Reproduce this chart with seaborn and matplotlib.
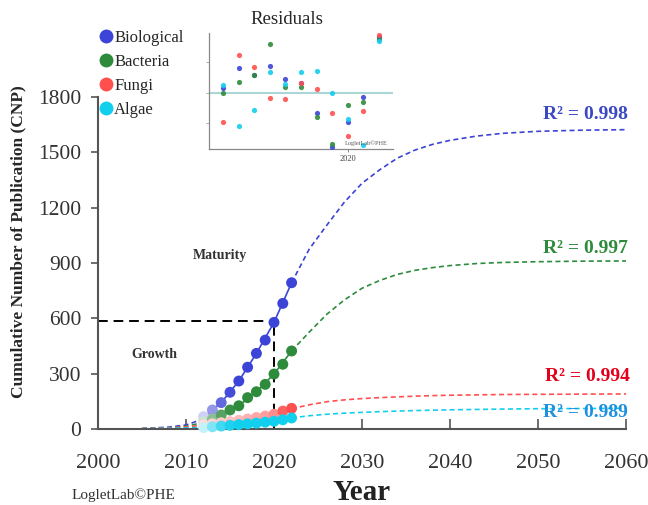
import numpy as np
import pandas as pd
import matplotlib
matplotlib.use("Agg")
import matplotlib.pyplot as plt
from matplotlib.lines import Line2D
from matplotlib.colors import to_rgb
import seaborn as sns

# observed cumulative publications
years = [2012, 2013, 2014, 2015, 2016, 2017, 2018, 2019, 2020, 2021, 2022]
biological = [67, 103, 143, 199, 260, 335, 410, 482, 578, 681, 793]
bacteria = [40, 54, 76, 103, 126, 170, 202, 242, 298, 351, 423]
fungi = [22, 28, 34, 40, 47, 54, 62, 70, 80, 97, 112]
algae = [8, 12, 16, 20, 24, 28, 32, 37, 42, 50, 60]

# fitted logistic curves
fit_years = [2005, 2008, 2010, 2011, 2012, 2014, 2016, 2018, 2020, 2022, 2024, 2026, 2028,
             2030, 2032, 2034, 2036, 2038, 2040, 2043, 2046, 2050, 2055, 2060]
fit_bio = [3, 10, 22, 38, 62, 143, 260, 410, 578, 793, 975, 1105, 1230,
           1332, 1405, 1468, 1512, 1543, 1565, 1588, 1603, 1614, 1620, 1623]
fit_bac = [2, 6, 14, 25, 40, 76, 126, 202, 298, 423, 525, 622, 700,
           763, 805, 838, 860, 875, 886, 897, 903, 907, 910, 911]
fit_fun = [2, 6, 12, 16, 22, 34, 47, 62, 80, 110, 131, 148, 158,
           165, 170, 174, 178, 181, 183, 185, 187, 188, 189, 190]
fit_alg = [2, 4, 6, 7, 8, 16, 24, 32, 42, 60, 72, 80, 86,
           90, 94, 97, 100, 102, 104, 106, 108, 110, 111, 112]

# residuals (inset), same years as observations
res_bio = [0.15, 0.83, 0.58, 0.89, 0.45, 0.31, -0.69, -1.82, -0.97, -0.16, 1.84]
res_bac = [-0.02, 0.36, 0.58, 1.61, 0.17, 0.18, -0.82, -1.71, -0.42, -0.31, 1.78]
res_fun = [-0.97, 1.26, 0.85, -0.17, -0.22, 0.31, 0.11, -0.68, -1.44, -0.61, 1.91]
res_alg = [0.26, -1.13, -0.58, 0.69, 0.28, 0.67, 0.73, -0.02, -0.87, -1.74, 1.71]

names = ["Biological", "Bacteria", "Fungi", "Algae"]
r2_labels = ["R² = 0.998", "R² = 0.997", "R² = 0.994", "R² = 0.989"]

colors = ["#3b44d6", "#2e8b3c", "#ff4f4f", "#12cfee"]
r2_colors = ["#3a48c4", "#2e8b3c", "#e3001b", "#1e90e0"]

sns.set_style("ticks")
plt.rcParams["font.family"] = ["Liberation Serif", "DejaVu Serif"]

fig = plt.figure(figsize=(6.48, 5.05), dpi=100)
W, H = 648, 505
ax = fig.add_axes([98 / W, 1 - 429 / H, 528 / W, 332 / H])

obs = [biological, bacteria, fungi, algae]
fits = [fit_bio, fit_bac, fit_fun, fit_alg]
res = [res_bio, res_bac, res_fun, res_alg]

# fading of early points
fade_main = [0.25, 0.55, 0.8, 0.95, 1, 1, 1, 1, 1, 1, 1]
fade_red = [0.2, 0.25, 0.3, 0.35, 0.4, 0.45, 0.5, 0.55, 0.65, 0.9, 1]


def blend(c, a):
    r, g, b = to_rgb(c)
    return (1 - a + a * r, 1 - a + a * g, 1 - a + a * b)


for i, name in enumerate(names):
    fdf = pd.DataFrame({"year": fit_years, "cnp": fits[i]})
    before = fdf[fdf.year <= 2012]
    inside = fdf[(fdf.year >= 2012) & (fdf.year <= 2022)]
    after = fdf[fdf.year >= 2022]
    for part, ls in [(before, (0, (3, 2))), (inside, "-"), (after, (0, (3, 2)))]:
        sns.lineplot(data=part, x="year", y="cnp", ax=ax, color=colors[i],
                     linewidth=1.2, linestyle=ls, estimator=None, sort=False, legend=False)
    fade = fade_red if i == 2 else fade_main
    odf = pd.DataFrame({"year": years, "cnp": obs[i]})
    pal = {y: blend(colors[i], a) for y, a in zip(years, fade)}
    sns.scatterplot(data=odf, x="year", y="cnp", hue="year", palette=pal, ax=ax,
                    s=62, linewidth=0, legend=False, zorder=3, clip_on=False)

# growth / maturity guide lines
ax.plot([2000, 2020], [585, 585], color="black", linestyle=(0, (5, 3)), linewidth=1.4)
ax.plot([2020, 2020], [0, 585], color="black", linestyle=(0, (5, 3)), linewidth=1.4)

ax.set_xlim(2000, 2060)
ax.set_ylim(0, 1800)
ax.set_xticks(range(2000, 2061, 10))
ax.set_yticks(range(0, 1801, 300))
ax.set_xlabel("")
ax.set_ylabel("")
for side in ["top", "right"]:
    ax.spines[side].set_visible(False)
for side in ["left", "bottom"]:
    ax.spines[side].set_color("#555555")
    ax.spines[side].set_linewidth(1.5)
ax.tick_params(axis="x", direction="in", length=7, width=1.2, color="#555555",
               labelsize=16, labelcolor="#333333", pad=18)
ax.tick_params(axis="y", direction="out", length=5, width=1.2, color="#555555",
               labelsize=15.5, labelcolor="#333333", pad=7)

# R² labels
fig.text(628 / W, 1 - 119 / H, r2_labels[0], color=r2_colors[0], fontsize=14,
         fontweight="bold", ha="right", va="baseline")
fig.text(628 / W, 1 - 253 / H, r2_labels[1], color=r2_colors[1], fontsize=14,
         fontweight="bold", ha="right", va="baseline")
fig.text(630 / W, 1 - 381 / H, r2_labels[2], color=r2_colors[2], fontsize=14,
         fontweight="bold", ha="right", va="baseline")
fig.text(628 / W, 1 - 417 / H, r2_labels[3], color=r2_colors[3], fontsize=14,
         fontweight="bold", ha="right", va="baseline")

fig.text(220 / W, 1 - 255 / H, "Maturity", fontsize=10, fontweight="bold",
         color="#333333", ha="center", va="center")
fig.text(154 / W, 1 - 354 / H, "Growth", fontsize=10, fontweight="bold",
         color="#333333", ha="center", va="center")

fig.text(18 / W, 263 / H, "Cumulative Number of Publication (CNP)", rotation=90,
         fontsize=12.5, fontweight="bold", ha="center", va="center")
fig.text(362 / W, 1 - 492 / H, "Year", fontsize=21, fontweight="bold",
         color="#222222", ha="center", va="center")
fig.text(72 / W, 1 - 495 / H, "LogletLab©PHE", fontsize=11, color="#333333",
         ha="left", va="center")

# legend
handles = [Line2D([], [], marker="o", linestyle="none", markersize=10,
                  markerfacecolor=c, markeredgewidth=0) for c in colors]
fig.legend(handles, names, loc="upper left", bbox_to_anchor=(96 / W, 1 - 30 / H),
           frameon=False, fontsize=12, handletextpad=-0.1, labelspacing=0.48,
           handlelength=1.2, borderaxespad=0, borderpad=0)

# residuals inset
axin = fig.add_axes([209 / W, 1 - 149 / H, 184 / W, 116 / H])
axin.axhline(0, color="#a9d6d6", linewidth=1.5, zorder=1)
for i, name in enumerate(names):
    rdf = pd.DataFrame({"year": years, "res": res[i]})
    sns.scatterplot(data=rdf, x="year", y="res", ax=axin, color=colors[i], s=14,
                    linewidth=0, alpha=0.9, legend=False, zorder=3)
axin.set_xlim(2011.1, 2022.9)
axin.set_ylim(-1.88, 1.98)
axin.set_xticks([2020])
axin.set_yticks([-1, 0, 1])
axin.set_yticklabels([])
axin.set_xlabel("")
axin.set_ylabel("")
for side in ["top", "right"]:
    axin.spines[side].set_visible(False)
for side in ["left", "bottom"]:
    axin.spines[side].set_color("#888888")
    axin.spines[side].set_linewidth(0.9)
axin.tick_params(axis="x", length=2.5, width=0.7, color="#888888", labelsize=6,
                 labelcolor="#444444", pad=1.5)
axin.tick_params(axis="y", length=2, width=0.7, color="#aaaaaa")
axin.patch.set_alpha(0)
axin.text(2021.2, -1.68, "LogletLab©PHE", fontsize=4.5, color="#555555",
          ha="center", va="center")
fig.text(287 / W, 1 - 20 / H, "Residuals", fontsize=13.5, ha="center", va="center")

fig.savefig("out.png", dpi=100)
